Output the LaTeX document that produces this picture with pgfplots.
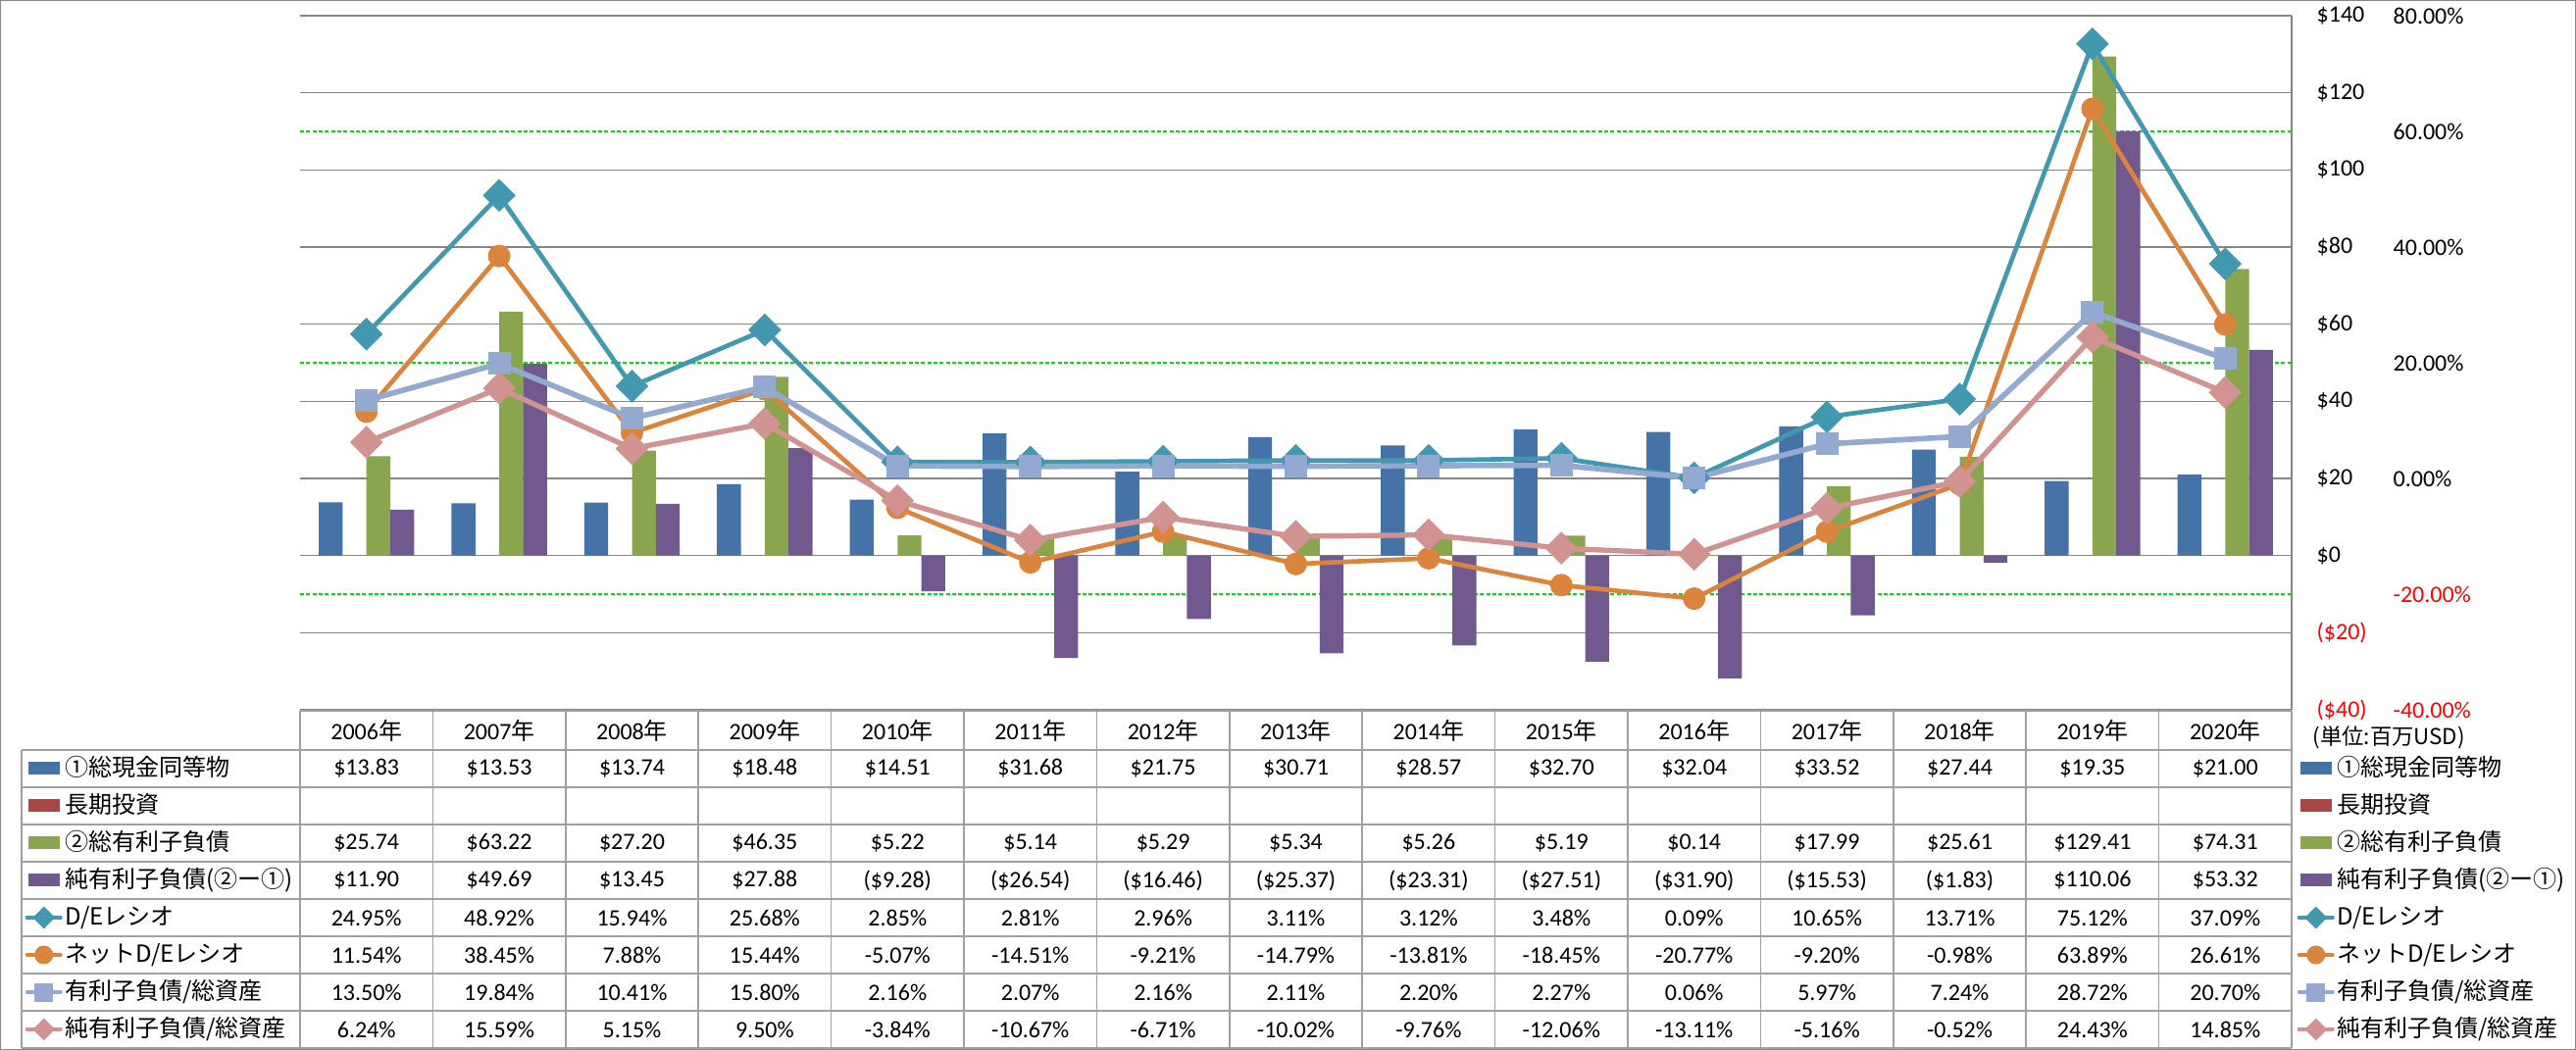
\documentclass[border=0pt]{standalone}
\usepackage{pgfplots}
\pgfplotsset{compat=1.18}
\usepackage{fontspec}
\setmainfont{Carlito}
\newfontfamily\jp{Noto Sans CJK JP}
\definecolor{cBlue}{RGB}{69,114,167}
\definecolor{cRed}{RGB}{170,70,67}
\definecolor{cGreen}{RGB}{137,165,78}
\definecolor{cPurple}{RGB}{113,88,143}
\definecolor{cTeal}{RGB}{65,152,175}
\definecolor{cOrange}{RGB}{219,132,61}
\definecolor{cLBlue}{RGB}{147,169,207}
\definecolor{cPink}{RGB}{209,146,146}
\definecolor{gridgray}{RGB}{134,134,134}
\definecolor{tblgray}{RGB}{160,160,160}
\definecolor{dgreen}{RGB}{0,225,0}
\pgfplotsset{
  barkey/.style={legend image code/.code={\fill[##1] (0.9pt,-1.95pt) rectangle (10.5pt,1.95pt);}},
  linekey/.style={legend image code/.code={\draw[mark repeat=2,mark phase=2,##1,sharp plot,line cap=round] plot coordinates {(0.5pt,0pt) (5.7pt,0pt) (10.9pt,0pt)};}},
  sBlue/.style={barkey, fill=cBlue, draw=none},
  sRed/.style={barkey, fill=cRed, draw=none},
  sGreen/.style={barkey, fill=cGreen, draw=none},
  sPurple/.style={barkey, fill=cPurple, draw=none},
  sTeal/.style={color=cTeal, line width=1.4pt, mark=square*, mark size=3.4pt, mark options={solid, rotate=45, line width=0.3pt}},
  sOrange/.style={color=cOrange, line width=1.4pt, mark=*, mark size=3.3pt, mark options={solid, line width=0.3pt}},
  sLBlue/.style={color=cLBlue, line width=1.7pt, mark=square*, mark size=3.3pt, mark options={solid, line width=0.3pt}},
  sPink/.style={color=cPink, line width=1.6pt, mark=square*, mark size=3.4pt, mark options={solid, rotate=45, line width=0.3pt}},
  lTeal/.style={linekey, color=cTeal, line width=1pt, mark=square*, mark size=2.3pt, mark options={solid, rotate=45, line width=0.2pt}},
  lOrange/.style={linekey, color=cOrange, line width=1pt, mark=*, mark size=2.75pt, mark options={solid, line width=0.2pt}},
  lLBlue/.style={linekey, color=cLBlue, line width=1pt, mark=square*, mark size=2.7pt, mark options={solid, line width=0.2pt}},
  lPink/.style={linekey, color=cPink, line width=1pt, mark=square*, mark size=2.3pt, mark options={solid, rotate=45, line width=0.2pt}},
  common/.style={at={(91.8pt,104.1pt)}, anchor=south west, scale only axis,
    width=609.3pt, height=212.4pt, xmin=-0.5, xmax=14.5,
    axis x line=none, axis y line*=right, xtick=\empty,
    tick style={draw=none}, major tick length=0pt,
    yticklabel style={anchor=west, inner sep=0pt, font=\fontsize{7.2}{8}\selectfont},
    legend style={draw=none, fill=none, inner sep=0pt, outer sep=0pt,
      row sep=0pt, column sep=0.8pt, font=\jp\fontsize{7.2}{8}\selectfont,
      nodes={inner sep=0pt, minimum height=11.4pt}},
    legend cell align=left},
}
\newcommand\tblrow[2]{\foreach \v [count=\i from 0] in {#2} {\node[inner sep=0pt] at (373.7+135.4*\i,#1) {\v};}}
\begin{document}
\begin{tikzpicture}
\useasboundingbox (0,0) rectangle (788.1pt,321.3pt);
\begin{axis}[common,
  ymin=-40, ymax=140,
  y axis line style={draw=gridgray, line width=0.45pt},
  ytick={-40,-20,0,20,40,60,80,100,120,140},
  yticklabels={{\color{red}(\$40)},{\color{red}(\$20)},\$0,\$20,\$40,\$60,\$80,\$100,\$120,\$140},
  yticklabel style={xshift=7.5pt},
  ymajorgrids, major grid style={gridgray, line width=0.45pt},
  extra y ticks={-10,50,110}, extra y tick labels={},
  extra y tick style={grid=major, major grid style={dgreen, dash pattern=on 1.2pt off 0.7pt, line width=0.35pt}},
  legend style={at={(axis description cs:1.00281,-0.0579)}, anchor=north west},
]
\addplot[ybar, bar width=7.3pt, bar shift=-10.95pt, sBlue] coordinates {(0,13.83) (1,13.53) (2,13.74) (3,18.48) (4,14.51) (5,31.68) (6,21.75) (7,30.71) (8,28.57) (9,32.70) (10,32.04) (11,33.52) (12,27.44) (13,19.35) (14,21.00)};
\addlegendentry{①総現金同等物}
\addlegendimage{sRed}
\addlegendentry{長期投資}
\addplot[ybar, bar width=7.3pt, bar shift=3.65pt, sGreen] coordinates {(0,25.74) (1,63.22) (2,27.20) (3,46.35) (4,5.22) (5,5.14) (6,5.29) (7,5.34) (8,5.26) (9,5.19) (10,0.14) (11,17.99) (12,25.61) (13,129.41) (14,74.31)};
\addlegendentry{②総有利子負債}
\addplot[ybar, bar width=7.3pt, bar shift=10.95pt, sPurple] coordinates {(0,11.90) (1,49.69) (2,13.45) (3,27.88) (4,-9.28) (5,-26.54) (6,-16.46) (7,-25.37) (8,-23.31) (9,-27.51) (10,-31.90) (11,-15.53) (12,-1.83) (13,110.06) (14,53.32)};
\addlegendentry{純有利子負債(②ー①)}
\addlegendimage{lTeal}
\addlegendentry{D/Eレシオ}
\addlegendimage{lOrange}
\addlegendentry{ネットD/Eレシオ}
\addlegendimage{lLBlue}
\addlegendentry{有利子負債/総資産}
\addlegendimage{lPink}
\addlegendentry{純有利子負債/総資産}
\end{axis}
\begin{axis}[common,
  ymin=-40, ymax=80,
  y axis line style={draw=none},
  ytick={-40,-20,0,20,40,60,80},
  yticklabels={{\color{red}-40.00\%},{\color{red}-20.00\%},0.00\%,20.00\%,40.00\%,60.00\%,80.00\%},
  yticklabel style={xshift=30.9pt},
  legend style={at={(axis description cs:-0.13801,-0.0579)}, anchor=north west},
]
\draw[dgreen, dash pattern=on 1.2pt off 0.7pt, line width=0.35pt] ([xshift=24pt]rel axis cs:1,0) -- ([xshift=24pt]rel axis cs:1,1);
\pgfplotsinvokeforeach{-40,-20,0,20,40,60,80}{\draw[dgreen, dash pattern=on 1.2pt off 0.7pt, line width=0.35pt] ([xshift=24pt]axis cs:14.5,#1) -- ++(2.4pt,0);}
\addlegendimage{sBlue}
\addlegendentry{①総現金同等物}
\addlegendimage{sRed}
\addlegendentry{長期投資}
\addlegendimage{sGreen}
\addlegendentry{②総有利子負債}
\addlegendimage{sPurple}
\addlegendentry{純有利子負債(②ー①)}
\addlegendimage{lTeal}
\addlegendentry{D/Eレシオ}
\addlegendimage{lOrange}
\addlegendentry{ネットD/Eレシオ}
\addlegendimage{lLBlue}
\addlegendentry{有利子負債/総資産}
\addlegendimage{lPink}
\addlegendentry{純有利子負債/総資産}
\addplot[sTeal, forget plot] coordinates {(0,24.95) (1,48.92) (2,15.94) (3,25.68) (4,2.85) (5,2.81) (6,2.96) (7,3.11) (8,3.12) (9,3.48) (10,0.09) (11,10.65) (12,13.71) (13,75.12) (14,37.09)};
\addplot[sOrange, forget plot] coordinates {(0,11.54) (1,38.45) (2,7.88) (3,15.44) (4,-5.07) (5,-14.51) (6,-9.21) (7,-14.79) (8,-13.81) (9,-18.45) (10,-20.77) (11,-9.20) (12,-0.98) (13,63.89) (14,26.61)};
\addplot[sLBlue, forget plot] coordinates {(0,13.50) (1,19.84) (2,10.41) (3,15.80) (4,2.16) (5,2.07) (6,2.16) (7,2.11) (8,2.20) (9,2.27) (10,0.06) (11,5.97) (12,7.24) (13,28.72) (14,20.70)};
\addplot[sPink, forget plot] coordinates {(0,6.24) (1,15.59) (2,5.15) (3,9.50) (4,-3.84) (5,-10.67) (6,-6.71) (7,-10.02) (8,-9.76) (9,-12.06) (10,-13.11) (11,-5.16) (12,-0.52) (13,24.43) (14,14.85)};
\end{axis}
\begin{scope}[x=0.3pt, y=0.3pt]
\draw[gridgray, line width=0.35pt] (0.8,0.8) rectangle (2626.2,1070.2);
\draw[tblgray, line width=0.45pt] (306,346) -- (2337,346);
\foreach \yy in {306,268,230,192,154,116,78,40,2} {\draw[tblgray, line width=0.45pt] (22,\yy) -- (2337,\yy);}
\draw[tblgray, line width=0.45pt] (22,306) -- (22,2);
\foreach \i in {0,...,15} {\draw[tblgray, line width=0.45pt] (306+135.4*\i,346) -- (306+135.4*\i,2);}
\fontsize{7.2}{8}\selectfont
\foreach \i in {0,...,14} {\pgfmathtruncatemacro\yr{2006+\i}\node[inner sep=0pt] at (373.7+135.4*\i,326) {\yr{\jp 年}};}
\tblrow{287}{\$13.83,\$13.53,\$13.74,\$18.48,\$14.51,\$31.68,\$21.75,\$30.71,\$28.57,\$32.70,\$32.04,\$33.52,\$27.44,\$19.35,\$21.00}
\tblrow{211}{\$25.74,\$63.22,\$27.20,\$46.35,\$5.22,\$5.14,\$5.29,\$5.34,\$5.26,\$5.19,\$0.14,\$17.99,\$25.61,\$129.41,\$74.31}
\tblrow{173}{\$11.90,\$49.69,\$13.45,\$27.88,{(\$9.28)},{(\$26.54)},{(\$16.46)},{(\$25.37)},{(\$23.31)},{(\$27.51)},{(\$31.90)},{(\$15.53)},{(\$1.83)},\$110.06,\$53.32}
\tblrow{135}{24.95\%,48.92\%,15.94\%,25.68\%,2.85\%,2.81\%,2.96\%,3.11\%,3.12\%,3.48\%,0.09\%,10.65\%,13.71\%,75.12\%,37.09\%}
\tblrow{97}{11.54\%,38.45\%,7.88\%,15.44\%,-5.07\%,-14.51\%,-9.21\%,-14.79\%,-13.81\%,-18.45\%,-20.77\%,-9.20\%,-0.98\%,63.89\%,26.61\%}
\tblrow{59}{13.50\%,19.84\%,10.41\%,15.80\%,2.16\%,2.07\%,2.16\%,2.11\%,2.20\%,2.27\%,0.06\%,5.97\%,7.24\%,28.72\%,20.70\%}
\tblrow{21}{6.24\%,15.59\%,5.15\%,9.50\%,-3.84\%,-10.67\%,-6.71\%,-10.02\%,-9.76\%,-12.06\%,-13.11\%,-5.16\%,-0.52\%,24.43\%,14.85\%}
\node[anchor=west, inner sep=0pt, font=\jp\fontsize{6.7}{7}\selectfont] at (2358,319) {(単位:百万USD)};
\end{scope}
\end{tikzpicture}
\end{document}
